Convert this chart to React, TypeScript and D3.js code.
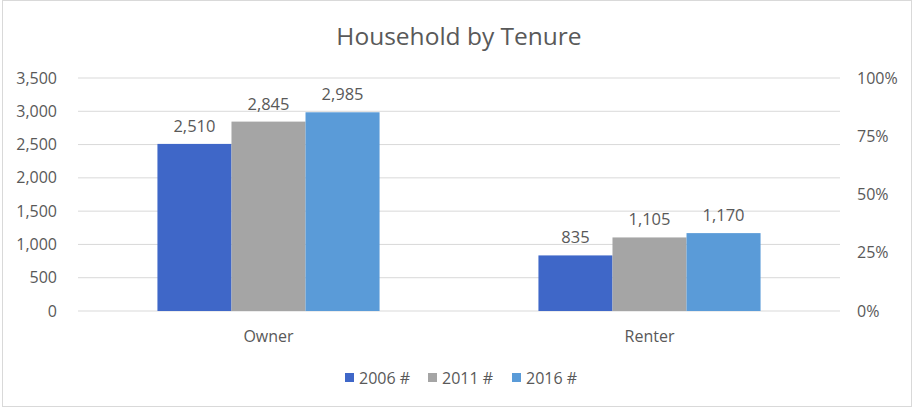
import React from "react";
import * as d3 from "d3";

const categories = ["Owner", "Renter"];
const seriesNames = ["2006 #", "2011 #", "2016 #"];
const values2006 = [2510, 835];
const values2011 = [2845, 1105];
const values2016 = [2985, 1170];
const leftTicks = [0, 500, 1000, 1500, 2000, 2500, 3000, 3500];
const rightTicks = [0, 0.25, 0.5, 0.75, 1];
const colors = ["#3f67c8", "#a5a5a5", "#5a9bd8"];

const W = 914;
const H = 409;
const FONT = "'Open Sans', 'Noto Sans', sans-serif";
const TXT = "#595959";

export default function App() {
  const series = [values2006, values2011, values2016];
  const left = 78;
  const right = 840;
  const top = 78;
  const bottom = 311;
  const y = d3.scaleLinear().domain([0, 3500]).range([bottom, top]);
  const yR = d3.scaleLinear().domain([0, 1]).range([bottom, top]);
  const x0 = d3
    .scaleBand<string>()
    .domain(categories)
    .range([left, right])
    .paddingInner(0.417)
    .paddingOuter(0.2085);
  const x1 = d3
    .scaleBand<string>()
    .domain(seriesNames)
    .range([0, x0.bandwidth()])
    .padding(0);
  const fmt = d3.format(",");
  const pct = d3.format(".0%");

  const legendX = [345, 428, 512];

  return (
    <svg
      width={W}
      height={H}
      style={{ position: "absolute", left: 0, top: 0, background: "#fff" }}
      fontFamily={FONT}
    >
      <rect x={2.5} y={0.5} width={W - 5} height={H - 3} fill="#fff" stroke="#d9d9d9" />
      <text x={459} y={45} textAnchor="middle" fontSize={24.5} fill={TXT}>
        Household by Tenure
      </text>
      {leftTicks.map((t) => (
        <g key={t}>
          <line x1={left} x2={right} y1={y(t)} y2={y(t)} stroke="#d9d9d9" strokeWidth={1} />
          <text x={57} y={y(t)} dy="0.35em" textAnchor="end" fontSize={16} fill={TXT}>
            {fmt(t)}
          </text>
        </g>
      ))}
      {rightTicks.map((t) => (
        <text key={t} x={857} y={yR(t)} dy="0.35em" textAnchor="start" fontSize={16} fill={TXT}>
          {pct(t)}
        </text>
      ))}
      {categories.map((c, ci) => (
        <g key={c} transform={`translate(${x0(c)},0)`}>
          {series.map((s, si) => (
            <g key={si}>
              <rect
                x={x1(seriesNames[si])}
                y={y(s[ci])}
                width={x1.bandwidth()}
                height={bottom - y(s[ci])}
                fill={colors[si]}
              />
              <text
                x={(x1(seriesNames[si]) as number) + x1.bandwidth() / 2}
                y={y(s[ci]) - 12}
                textAnchor="middle"
                fontSize={16.5}
                fill={TXT}
              >
                {fmt(s[ci])}
              </text>
            </g>
          ))}
          <text
            x={x0.bandwidth() / 2}
            y={342}
            textAnchor="middle"
            fontSize={16}
            fill={TXT}
          >
            {c}
          </text>
        </g>
      ))}
      {seriesNames.map((n, i) => (
        <g key={n}>
          <rect x={legendX[i]} y={373} width={9} height={9} fill={colors[i]} />
          <text x={legendX[i] + 14} y={384} fontSize={16} fill={TXT}>
            {n}
          </text>
        </g>
      ))}
    </svg>
  );
}
